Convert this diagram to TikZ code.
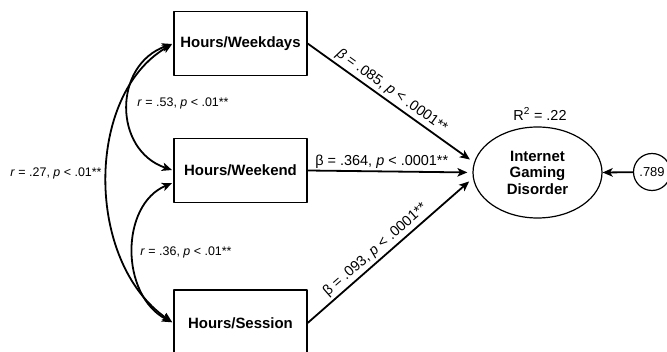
\documentclass[tikz,border=0pt]{standalone}
\usepackage{fontspec}
\setmainfont{Liberation Sans}
\usepackage{tikz}
\usetikzlibrary{arrows.meta}
\usetikzlibrary{shapes.geometric}
\usetikzlibrary{positioning}
\tikzset{>={Stealth[length=10bp,width=8.5bp,inset=2.5bp]}, auto, baseline=(current bounding box.center)}
\tikzset{obsvar/.style={draw, rectangle, line width=1.2bp, minimum width=133bp, minimum height=64bp, font=\fontsize{15}{17}\selectfont\bfseries},
  latvar/.style={draw, ellipse, line width=1.2bp, minimum width=129bp, minimum height=91bp, inner sep=0pt, align=center, font=\fontsize{15}{16.5}\selectfont\bfseries},
  errvar/.style={draw, circle, line width=1.2bp, minimum size=37bp, inner sep=0pt, font=\fontsize{13}{14}\selectfont},
  regarrow/.style={->, line width=1.8bp, shorten >=5bp},
  covarc/.style={<->, line width=1.8bp, shorten >=1.5bp, shorten <=1.5bp},
  est/.style={font=\fontsize{14.5}{16}\selectfont, inner sep=2.5bp},
  rlab/.style={font=\fontsize{12.5}{14}\selectfont}}

\begin{document}
\begin{tikzpicture}[line join=bevel,]
\useasboundingbox (0bp,0bp) rectangle (667bp,352bp);
%%
\node (wd) at (240.5bp,308.5bp) [obsvar] {Hours/Weekdays};
  \node (we) at (240.5bp,181.5bp) [obsvar] {Hours/Weekend};
  \node (se) at (240.5bp,29bp) [obsvar, minimum height=66bp] {Hours/Session};
  \node (igd) at (537.5bp,179.5bp) [latvar] {Internet\\Gaming\\Disorder};
  \node (err) at (652bp,180bp) [errvar] {.789};
  \node (rsq) at (540bp,238bp) [est] {R\textsuperscript{2} = .22};
  % paths to the outcome
  \draw [regarrow] (wd.east) -- (igd.171) node [est, pos=0.47, sloped, above] {\textit{β} = .085, \textit{p} < .0001**};
  \draw [regarrow] (we.east) -- (igd.west) node [est, pos=0.45, above] {β = .364, \textit{p} < .0001**};
  \draw [regarrow] (se.east) -- (igd.185) node [est, pos=0.45, sloped, above] {β = .093, \textit{p} < .0001**};
  \draw [regarrow, shorten >=0bp] (err) -- (igd.east);
  % correlations
  \draw [covarc] (wd.west) ..controls (113bp,287bp) and (113bp,202bp) .. (we.west);
  \draw [covarc] ([yshift=-12bp]we.west) ..controls (120bp,147bp) and (120bp,57bp) .. (se.west);
  \draw [covarc] (wd.west) ..controls (85bp,257bp) and (85bp,90bp) .. (se.west);
  \node (r1) at (183bp,249bp) [rlab] {\textit{r} = .53, \textit{p} < .01**};
  \node (r2) at (186bp,100bp) [rlab] {\textit{r} = .36, \textit{p} < .01**};
  \node (r3) at (56bp,179bp) [rlab] {\textit{r} = .27, \textit{p} < .01**};
%
\end{tikzpicture}
\end{document}
